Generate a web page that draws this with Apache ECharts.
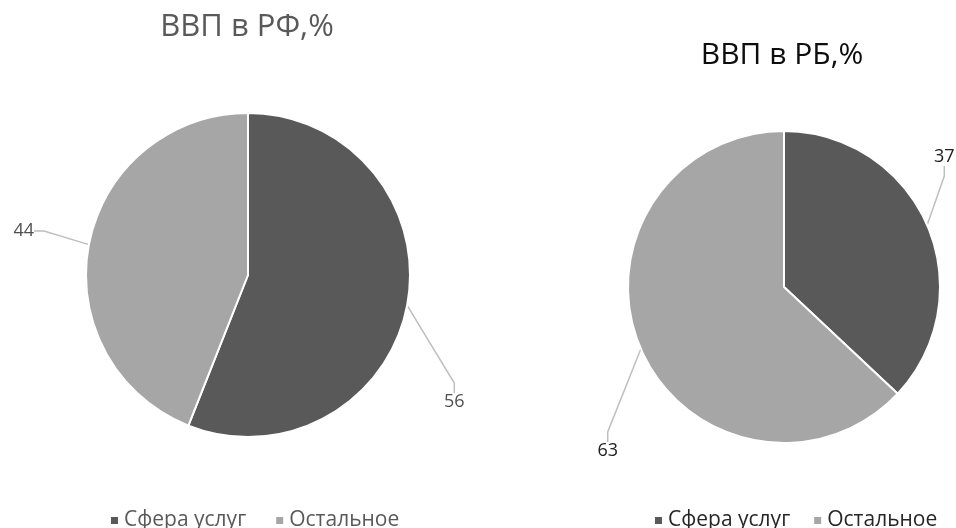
<!DOCTYPE html>
<html>
<head>
<meta charset="utf-8">
<script src="https://cdn.jsdelivr.net/npm/echarts@6/dist/echarts.min.js"></script>
<style>
  html, body { margin: 0; padding: 0; background: #ffffff; }
  #chart { width: 956px; height: 528px; }
</style>
</head>
<body>
<div id="chart"></div>
<script>
// Доля сферы услуг в ВВП, %
const categories = ['Сфера услуг', 'Остальное'];
const valuesRF = [56, 44];
const valuesRB = [37, 63];
const titles = ['ВВП в РФ,%', 'ВВП в РБ,%'];

const colors = ['#595959', '#a6a6a6'];
const font = '"Open Sans", "Noto Sans", sans-serif';

// label anchor offsets from each pie's centre (px)
const labelSpots = [
  [{ x: 196, y: 127, align: 'left' }, { x: -214, y: -44, align: 'right' }],
  [{ x: 150, y: -130, align: 'left' }, { x: -166, y: 164, align: 'right' }]
];
const centers = [[248, 275], [784, 287]];
const radii = [162, 156];

function makeSeries(idx, values) {
  return {
    type: 'pie',
    name: titles[idx],
    center: centers[idx],
    radius: radii[idx],
    startAngle: 90,
    clockwise: true,
    animation: false,
    itemStyle: { borderColor: '#ffffff', borderWidth: 2 },
    label: {
      show: true,
      formatter: '{c}',
      fontFamily: font,
      fontSize: 18,
      overflow: 'none',
      color: idx === 0 ? '#505050' : '#202020'
    },
    labelLine: {
      show: true,
      length: 10,
      length2: 10,
      lineStyle: { color: '#bfbfbf', width: 1.5 }
    },
    labelLayout: function (p) {
      const s = labelSpots[idx][p.dataIndex];
      return {
        x: centers[idx][0] + s.x,
        y: centers[idx][1] + s.y,
        align: s.align,
        verticalAlign: 'middle'
      };
    },
    data: categories.map((c, i) => ({
      name: c,
      value: values[i],
      itemStyle: { color: colors[i] }
    }))
  };
}

const chart = echarts.init(document.getElementById('chart'), null, { renderer: 'canvas' });
chart.setOption({
  backgroundColor: '#ffffff',
  color: colors,
  title: [
    {
      text: titles[0], left: 242, top: 7, textAlign: 'center',
      textStyle: { fontFamily: font, fontSize: 31, fontWeight: 'normal', color: '#595959' }
    },
    {
      text: titles[1], left: 777, top: 35, textAlign: 'center',
      textStyle: { fontFamily: font, fontSize: 30, fontWeight: 'normal', color: '#0d0d0d' }
    }
  ],
  legend: [
    {
      data: categories, left: 104, top: 505, icon: 'rect',
      itemWidth: 9, itemHeight: 9, itemGap: 28,
      textStyle: { fontFamily: font, fontSize: 21, color: '#595959' }
    },
    {
      data: categories, left: 648, top: 505, icon: 'rect',
      itemWidth: 9, itemHeight: 9, itemGap: 22,
      textStyle: { fontFamily: font, fontSize: 21, color: '#262626' }
    }
  ],
  series: [makeSeries(0, valuesRF), makeSeries(1, valuesRB)]
});
</script>
</body>
</html>
